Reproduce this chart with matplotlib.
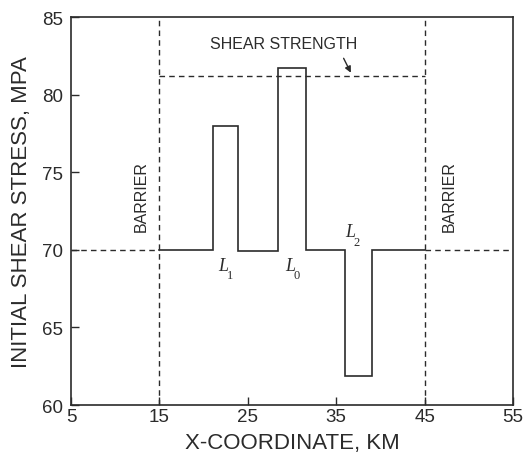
import matplotlib
matplotlib.use("Agg")
import matplotlib.pyplot as plt

# Stepwise initial shear-stress profile along the fault (km, MPa)
x_profile = [15, 21.1, 21.1, 23.9, 23.9, 28.45, 28.45, 31.55, 31.55, 36.0, 36.0, 39.1, 39.1, 45]
tau_profile = [70, 70, 78, 78, 69.9, 69.9, 81.7, 81.7, 70, 70, 61.9, 61.9, 70, 70]

barrier_x = [15, 45]
shear_strength = 81.2
background_stress = 70

x_ticks = [5, 15, 25, 35, 45, 55]
y_ticks = [60, 65, 70, 75, 80, 85]

plt.rcParams['font.family'] = ['Liberation Sans', 'DejaVu Sans']
ink = '#2b2b2b'

fig = plt.figure(figsize=(5.23, 4.56), dpi=100)
ax = fig.add_axes([0.1358, 0.1096, 0.845, 0.8509])

ax.plot(x_profile, tau_profile, color=ink, lw=1.2, solid_joinstyle='miter')

dash = dict(color=ink, lw=1.0, ls=(0, (4, 3)))
for xb in barrier_x:
    ax.plot([xb, xb], [60, 85], **dash)
ax.plot([5, barrier_x[0]], [background_stress] * 2, **dash)
ax.plot([barrier_x[1], 55], [background_stress] * 2, **dash)
ax.plot(barrier_x, [shear_strength] * 2, **dash)

ax.text(29.1, 83.3, 'SHEAR STRENGTH', ha='center', va='center', fontsize=11.5, color=ink)
ax.annotate('', xy=(36.8, shear_strength + 0.05), xytext=(35.7, 82.5),
            arrowprops=dict(arrowstyle='-|>', color=ink, lw=1.0, mutation_scale=9))

ax.text(12.9, 73.5, 'BARRIER', rotation=90, ha='center', va='center', fontsize=11.5, color=ink)
ax.text(47.8, 73.5, 'BARRIER', rotation=90, ha='center', va='center', fontsize=11.5, color=ink)

serif = ['Liberation Serif', 'DejaVu Serif']
for lx, ly, sub in [(22.2, 69.0, '1'), (29.8, 69.0, '0'), (36.6, 71.15, '2')]:
    ax.text(lx, ly, 'L', fontsize=13, style='italic', family=serif, ha='center', va='center', color=ink)
    ax.text(lx + 0.75, ly - 0.65, sub, fontsize=9, family=serif, ha='center', va='center', color=ink)

ax.set_xlim(5, 55)
ax.set_ylim(60, 85)
ax.set_xticks(x_ticks)
ax.set_yticks(y_ticks)
ax.tick_params(direction='in', length=6, width=1.0, color=ink, labelsize=13.5, labelcolor=ink)
ax.tick_params(axis='y', pad=6)
ax.tick_params(axis='x', pad=2)
for s in ax.spines.values():
    s.set_color(ink)
    s.set_linewidth(1.2)

ax.set_xlabel('X-COORDINATE, KM', fontsize=16, color=ink, labelpad=5.5)
ax.set_ylabel('INITIAL SHEAR STRESS, MPA', fontsize=16, color=ink, labelpad=7)

fig.savefig('out.png', dpi=100)
